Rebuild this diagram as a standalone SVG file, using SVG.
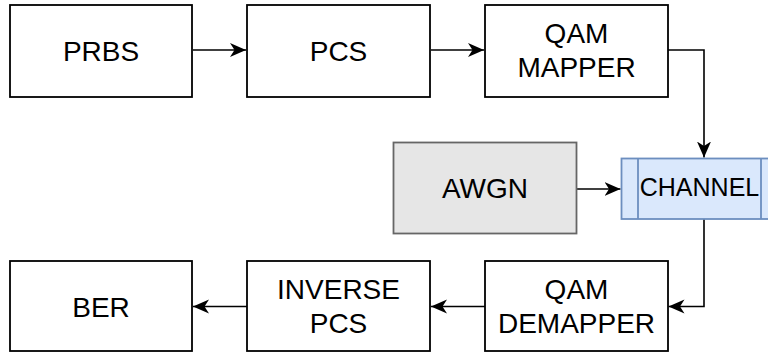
<svg xmlns="http://www.w3.org/2000/svg" width="768" height="354" viewBox="0 0 768 354">
<style>
.box{fill:#ffffff;stroke:#000000;stroke-width:1.8}
.grey{fill:#e6e6e6;stroke:#666666;stroke-width:1.8}
.chan{fill:#dae8fc;stroke:#6c8ebf;stroke-width:1.8}
.t{font-family:"Liberation Sans",Arial,sans-serif;font-size:28px;fill:#000000;text-anchor:middle}
.tc{font-family:"Liberation Sans",Arial,sans-serif;font-size:25px;fill:#000000;text-anchor:middle}
.edge{fill:none;stroke:#000000;stroke-width:1.6}
</style>
<defs>
<marker id="arr" markerUnits="userSpaceOnUse" markerWidth="18" markerHeight="16" refX="16" refY="7" orient="auto">
<path d="M0,0 L16,7 L0,14 L4.5,7 z" fill="#000000"/>
</marker>
</defs>
<rect width="768" height="354" fill="#ffffff"/>
<g id="connectors">
<path class="edge" d="M193,50 L246,50" marker-end="url(#arr)"/>
<path class="edge" d="M431,50 L484,50" marker-end="url(#arr)"/>
<path class="edge" d="M668,50 L704,50 L704,157.5" marker-end="url(#arr)"/>
<path class="edge" d="M577,189 L620.5,189" marker-end="url(#arr)"/>
<path class="edge" d="M704,219 L704,306.5 L668.5,306.5" marker-end="url(#arr)"/>
<path class="edge" d="M485,306.5 L431,306.5" marker-end="url(#arr)"/>
<path class="edge" d="M247,306.5 L193,306.5" marker-end="url(#arr)"/>
</g>
<g id="prbs">
<rect class="box" x="10" y="5" width="182" height="92"/>
<text class="t" x="101" y="61">PRBS</text>
</g>
<g id="pcs">
<rect class="box" x="247" y="5" width="183" height="92"/>
<text class="t" x="338.5" y="61">PCS</text>
</g>
<g id="qam-mapper">
<rect class="box" x="485" y="5" width="183" height="92"/>
<text class="t" x="576.5" y="42.5">QAM</text>
<text class="t" x="576.5" y="76.5">MAPPER</text>
</g>
<g id="awgn">
<rect class="grey" x="393.5" y="142.5" width="183" height="91"/>
<text class="t" x="485" y="198">AWGN</text>
</g>
<g id="channel">
<rect class="chan" x="621.5" y="158.5" width="157" height="60.5"/>
<line class="chan" x1="638" y1="158.5" x2="638" y2="219"/>
<line class="chan" x1="761" y1="158.5" x2="761" y2="219"/>
<text class="tc" x="699.5" y="195.5">CHANNEL</text>
</g>
<g id="ber">
<rect class="box" x="10" y="261" width="182" height="90"/>
<text class="t" x="101" y="316.5">BER</text>
</g>
<g id="inverse-pcs">
<rect class="box" x="247" y="261" width="183" height="90"/>
<text class="t" x="338.5" y="299">INVERSE</text>
<text class="t" x="338.5" y="333">PCS</text>
</g>
<g id="qam-demapper">
<rect class="box" x="485" y="261" width="183" height="90"/>
<text class="t" x="576.5" y="299">QAM</text>
<text class="t" x="576.5" y="333">DEMAPPER</text>
</g>
</svg>
